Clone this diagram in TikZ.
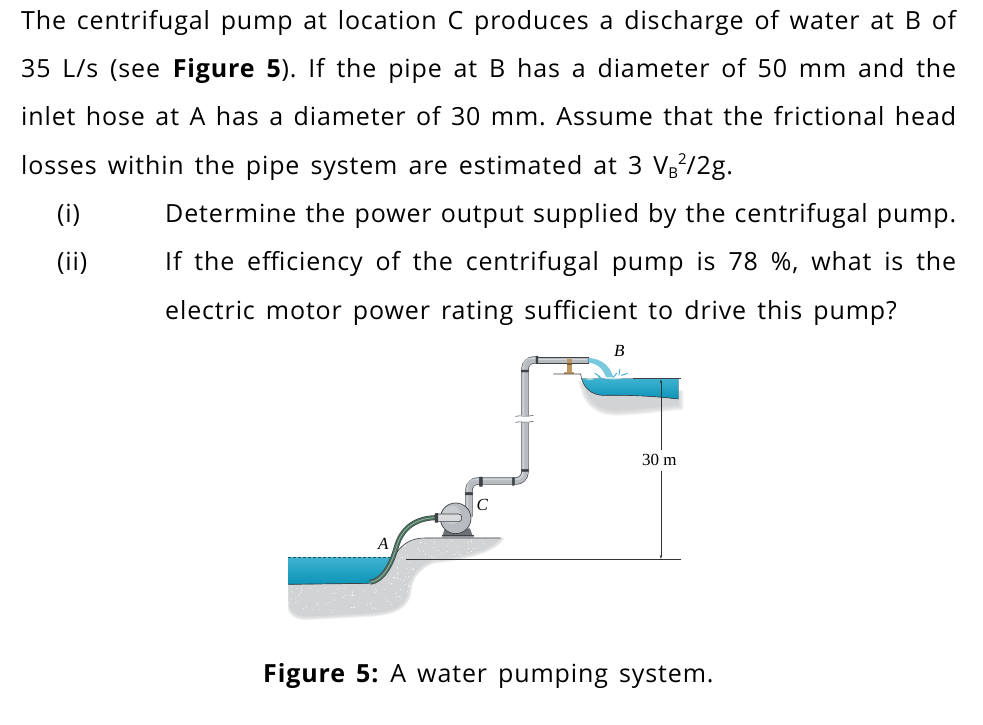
\documentclass[tikz,border=0pt]{standalone}
\usepackage{fontspec}
\setmainfont[WordSpace=1.5, LetterSpace=3.5]{Open Sans}
\newfontfamily\labelfont{Liberation Serif}
\usepackage{xcolor}
\usetikzlibrary{arrows.meta}
\definecolor{wtrtop}{RGB}{62, 178, 208}
\definecolor{wtrlow}{RGB}{12, 148, 184}
\definecolor{pipegray}{RGB}{184, 188, 192}
\definecolor{pipeedge}{RGB}{62, 66, 70}
\definecolor{hosegreen}{RGB}{72, 112, 92}
\definecolor{soilgray}{RGB}{210, 211, 212}
\definecolor{brass}{RGB}{190, 150, 95}
\tikzset{
    bodyline/.style={anchor=base west, inner sep=0pt, font=\fontsize{25}{30}\selectfont},
    figlabel/.style={inner sep=0pt, font=\fontsize{17}{18}\selectfont\labelfont\itshape},
    pipeout/.style={draw=pipeedge, line width=7.4pt, rounded corners=9pt},
    pipein/.style={draw=pipegray, line width=6.2pt, rounded corners=9pt},
    pipeshine/.style={draw=white, opacity=.35, line width=1.6pt, rounded corners=7pt},
    flange/.style={fill=pipeedge, draw=pipeedge, rounded corners=.4pt},
    water/.style={top color=wtrtop, bottom color=wtrlow, draw=none},
    dimline/.style={draw=black!80, line width=.6pt}
}
\frenchspacing
\newcommand{\fullline}[1]{\makebox[935pt][s]{#1}}
\newcommand{\itemline}[1]{\makebox[791pt][s]{#1}}
\newcommand{\smallup}[2]{\raisebox{#1}{\fontsize{15}{15}\selectfont #2}}
\def\soilpath{(55,732) -- (295,730) .. controls (335,722) and (355,680) .. (372,650)
    .. controls (395,610) and (425,594) .. (465,594) -- (692,594)
    .. controls (670,625) and (600,650) .. (490,660) .. controls (440,680) and (420,710) .. (415,750)
    .. controls (410,800) and (370,815) .. (300,820) -- (110,830)
    .. controls (70,830) and (55,810) .. (55,770) -- cycle}
\def\ledgepath{(945,140) .. controls (955,185) and (985,212) .. (1040,212)
    .. controls (1110,210) and (1170,200) .. (1225,195) -- (1225,165) -- cycle}
\begin{document}
\begin{tikzpicture}[x=1pt, y=-1pt]
    \useasboundingbox (0,0) rectangle (983,724);
    % text
    \node[bodyline] (l1) at (21,29) {\fullline{The centrifugal pump at location C produces a discharge of water at B of}};
    \node[bodyline] (l2) at (21,77) {\fullline{35 L/s (see \textbf{Figure 5}). If the pipe at B has a diameter of 50 mm and the}};
    \node[bodyline] (l3) at (21,125) {\fullline{inlet hose at A has a diameter of 30 mm. Assume that the frictional head}};
    \node[bodyline] (l4) at (21,174) {losses within the pipe system are estimated at 3 V\smallup{-4pt}{B}\smallup{10pt}{2}/2g.};
    \node[bodyline] (n1) at (57,222) {(i)};
    \node[bodyline] (i1) at (165,222) {\itemline{Determine the power output supplied by the centrifugal pump.}};
    \node[bodyline] (n2) at (57,270) {(ii)};
    \node[bodyline] (i2) at (165,270) {\itemline{If the efficiency of the centrifugal pump is 78 \%, what is the}};
    \node[bodyline] (i3) at (165,319) {electric motor power rating sufficient to drive this pump?};
    \node[bodyline] (cap) at (263,682) {\textbf{Figure 5:} A water pumping system.};
    % figure, in zoomed units
    \begin{scope}[shift={(270,340)}, x=.3333pt, y=-.3333pt]
        % lower ground
        \begin{scope}
            \clip (55,732) -- (295,730) .. controls (335,722) and (355,680) .. (372,650)
                .. controls (395,610) and (425,594) .. (465,594) -- (710,594) -- (710,860) -- (55,860) -- cycle;
            \foreach \w in {7,5.5,4,2.5,1}
                \draw[soilgray, opacity=.3, line width=\w pt] \soilpath;
            \fill[soilgray] \soilpath;
            \pgfmathsetseed{11}
            \begin{scope}
                \clip \soilpath;
                \foreach \i in {1,...,420}
                    \fill[white] ({55+rnd*640},{590+rnd*240}) circle (1.6);
            \end{scope}
        \end{scope}
        \draw[pipeedge, line width=.6pt] (295,730) .. controls (335,722) and (355,680) .. (372,650)
            .. controls (395,610) and (425,594) .. (465,594) -- (692,594);
        % lower water
        \fill[water] (55,653) -- (368,653) .. controls (350,690) and (335,722) .. (295,730) -- (55,733) -- cycle;
        \draw[pipeedge, line width=.7pt] (55,733) -- (295,730);
        \draw[wtrlow!60!black, densely dashed, line width=.4pt] (55,653) -- (368,653);
        % hose
        \draw[pipeedge, line width=5pt] (497,533) .. controls (440,535) and (395,560) .. (378,625)
            .. controls (365,670) and (340,722) .. (300,727);
        \draw[hosegreen, line width=3.8pt] (497,533) .. controls (440,535) and (395,560) .. (378,625)
            .. controls (365,670) and (340,722) .. (300,727);
        \draw[white, opacity=.45, line width=.8pt] (497,533) .. controls (440,535) and (395,560) .. (378,625)
            .. controls (365,670) and (340,722) .. (300,727);
        % pump base
        \fill[pipegray!80!black] (515,585) rectangle (612,595);
        \fill[pipegray!60!black] (525,565) -- (600,565) -- (607,585) -- (518,585) -- cycle;
        \draw[pipeedge, line width=.5pt] (515,585) -- (612,585);
        % delivery pipe
        \draw[pipeout] (597,530) -- (597,423) -- (765,423) -- (765,60) -- (805,60);
        \draw[pipein] (597,530) -- (597,423) -- (765,423) -- (765,60) -- (805,60);
        \draw[pipeshine] (592,530) -- (592,418) -- (760,418) -- (760,55) -- (805,55);
        \draw[pipeedge, fill=pipegray, line width=.6pt] (800,52) rectangle (955,69);
        \draw[white, opacity=.4, line width=1pt] (803,57) -- (952,57);
        % pipe break
        \fill[white] (730,226) .. controls (750,222) and (770,232) .. (792,226) -- (792,246)
            .. controls (770,252) and (750,242) .. (730,246) -- cycle;
        \draw[pipeedge, line width=.5pt] (736,229) .. controls (750,225) and (770,232) .. (790,226);
        \draw[pipeedge, line width=.5pt] (736,247) .. controls (750,243) and (770,250) .. (790,244);
        % flanges
        \foreach \xa/\ya/\xb/\yb in {586/457/608/465, 628/411/637/439, 727/413/733/436, 754/388/776/394, 754/90/776/96, 798/48/804/71}
            \draw[flange] (\xa,\ya) rectangle (\xb,\yb);
        % pump
        \draw[pipeedge, line width=.7pt, fill=pipegray] (557,535) circle (46);
        \fill[white, opacity=.25] (545,525) circle (28);
        \draw[pipeedge, line width=.6pt, fill=pipegray!55!white, rounded corners=3pt] (503,522) -- (575,522) -- (575,545) -- (503,545);
        \draw[flange] (495,520) rectangle (504,547);
        % support
        \fill[brass] (890,57) rectangle (906,95);
        \fill[brass!60!black] (890,70) rectangle (906,74);
        \fill[brass] (883,95) rectangle (911,102);
        % upper ledge
        \foreach \w in {10,8,6,4,2}
            \draw[soilgray, opacity=.3, line width=\w pt] \ledgepath;
        \fill[soilgray] \ledgepath;
        % upper water
        \fill[water] (935,116) -- (1225,116) -- (1225,177) .. controls (1150,168) and (1080,165) .. (1000,166)
            .. controls (965,165) and (945,145) .. (935,116) -- cycle;
        \draw[pipeedge, line width=.6pt] (850,102) -- (932,102) .. controls (938,145) and (965,165) .. (1000,166)
            .. controls (1080,165) and (1150,168) .. (1225,177);
        \draw[pipeedge, line width=.6pt] (1090,116) -- (1232,116);
        % jet and splash
        \fill[wtrtop!70!white] (955,54) .. controls (990,55) and (1020,75) .. (1030,112) -- (1008,112)
            .. controls (1000,85) and (980,70) .. (955,68) -- cycle;
        \fill[white, opacity=.6] (960,117) ellipse (12 and 2.5) (1030,115) ellipse (26 and 3);
        \foreach \xa/\ya/\xb/\yb in {975/100/990/110, 1030/112/1040/100, 1047/105/1050/88, 1055/106/1072/100, 985/110/995/115}
            \draw[wtrtop, line width=1pt, line cap=round] (\xa,\ya) -- (\xb,\yb);
        % dimension
        \coordinate (dimtop) at (1173,118);
        \coordinate (dimlow) at (1173,657);
        \node[inner sep=0pt, font=\fontsize{17}{18}\selectfont\labelfont, minimum height=20pt] (dimtxt) at (1168,361) {30 m};
        \draw[dimline, -{Stealth[length=4pt,width=2.4pt]}] (dimtxt.north -| dimtop) -- (dimtop);
        \draw[dimline, -{Stealth[length=4pt,width=2.4pt]}] (dimtxt.south -| dimlow) -- (dimlow);
        \coordinate (baseL) at (408,658);
        \coordinate (baseR) at (1232,658);
        \draw[dimline] (baseL) -- (baseR);
        % labels
        \node[figlabel] (labB) at (1048,33) {B};
        \node[figlabel] (labA) at (340,613) {A};
        \node[figlabel] (labC) at (637,494) {C};
    \end{scope}
\end{tikzpicture}
\end{document}
